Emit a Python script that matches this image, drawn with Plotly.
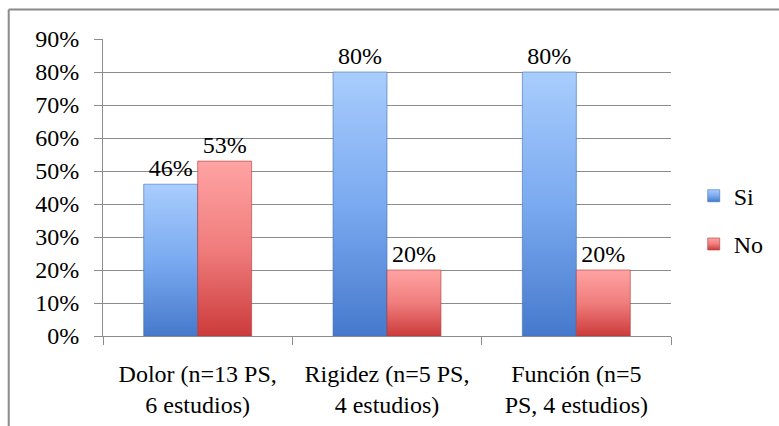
import plotly.graph_objects as go

# Proporción de estudios con resultado favorable por dominio
categorias = ["Dolor (n=13 PS,<br>6 estudios)",
              "Rigidez (n=5 PS,<br>4 estudios)",
              "Función (n=5<br>PS, 4 estudios)"]
si = [0.46, 0.80, 0.80]
no = [0.53, 0.20, 0.20]
series = [("Si", si), ("No", no)]

# Colores: base plana y degradado vertical (claro arriba, oscuro abajo)
base_colors = ["#6f9fe6", "#e86a6a"]
edge_colors = ["#3d6fb8", "#b03a3a"]
grad_stops = [["#a9cdfd", "#7aaaf0", "#4679cc"],
              ["#ffa3a3", "#f07d7d", "#cc3b3b"]]

FONT = "'Liberation Serif', 'Times New Roman', 'DejaVu Serif', serif"
FSIZE = 24
GRID = "#8c8c8c"

fig = go.Figure()
for (name, vals), col, edge in zip(series, base_colors, edge_colors):
    fig.add_trace(go.Bar(
        name=name, x=categorias, y=vals, legendgroup=name,
        marker=dict(color=col, line=dict(color=edge, width=0.6)),
        texttemplate="%{y:.0%}", textposition="outside",
        textfont=dict(family=FONT, size=FSIZE, color="black"),
        cliponaxis=False,
    ))

fig.update_layout(
    width=779, height=426,
    margin=dict(l=103, r=108, t=39, b=90, autoexpand=False),
    paper_bgcolor="white", plot_bgcolor="white",
    font=dict(family=FONT, size=FSIZE, color="black"),
    barmode="group", bargap=0.43, bargroupgap=0,
    showlegend=True,
    legend=dict(x=1.04, y=0.39, xanchor="left", yanchor="middle",
                traceorder="grouped", tracegroupgap=14,
                font=dict(family=FONT, size=FSIZE, color="black"),
                itemwidth=30),
    shapes=[
        # marco exterior (borde superior e izquierdo)
        dict(type="line", xref="paper", yref="paper",
             x0=-0.166, x1=1.25, y0=1.0993, y1=1.0993,
             line=dict(color="#8a8a8a", width=2)),
        dict(type="line", xref="paper", yref="paper",
             x0=-0.166, x1=-0.166, y0=1.0993, y1=-0.35,
             line=dict(color="#8a8a8a", width=2)),
    ],
)

fig.update_yaxes(
    range=[0, 0.9], tickvals=[i / 10 for i in range(10)],
    tickformat=".0%", showgrid=True, gridcolor=GRID, gridwidth=1,
    showline=True, linecolor=GRID, linewidth=1,
    ticks="outside", ticklen=8, tickcolor=GRID,
    ticklabelstandoff=10, zeroline=False, automargin=False,
    tickfont=dict(family=FONT, size=FSIZE),
)
fig.update_xaxes(
    showline=True, linecolor=GRID, linewidth=1,
    ticks="outside", ticklen=8, tickcolor=GRID, tickson="boundaries",
    ticklabelstandoff=16, automargin=False,
    showgrid=False, tickfont=dict(family=FONT, size=FSIZE),
)

stops_js = str(grad_stops)
post_js = """
var gd = document.getElementById('{plot_id}');
var ns = 'http://www.w3.org/2000/svg';
var stops = %s;
var svg = gd.querySelector('svg.main-svg');
var defs = svg.querySelector('defs') || svg.insertBefore(document.createElementNS(ns, 'defs'), svg.firstChild);
stops.forEach(function(cols, i) {
  var g = document.createElementNS(ns, 'linearGradient');
  g.setAttribute('id', 'bargrad' + i);
  g.setAttribute('x1', '0'); g.setAttribute('y1', '0');
  g.setAttribute('x2', '0'); g.setAttribute('y2', '1');
  cols.forEach(function(c, k) {
    var s = document.createElementNS(ns, 'stop');
    s.setAttribute('offset', k / (cols.length - 1));
    s.setAttribute('stop-color', c);
    g.appendChild(s);
  });
  defs.appendChild(g);
});
gd.querySelectorAll('.barlayer .trace').forEach(function(tr, i) {
  tr.querySelectorAll('path').forEach(function(p) { p.style.fill = 'url(#bargrad' + i + ')'; });
});
gd.querySelectorAll('.legend .traces').forEach(function(tr, i) {
  tr.querySelectorAll('.legendpoints path').forEach(function(p) { p.style.fill = 'url(#bargrad' + i + ')'; });
});
""" % stops_js

fig.write_html("out.html", post_script=post_js)
